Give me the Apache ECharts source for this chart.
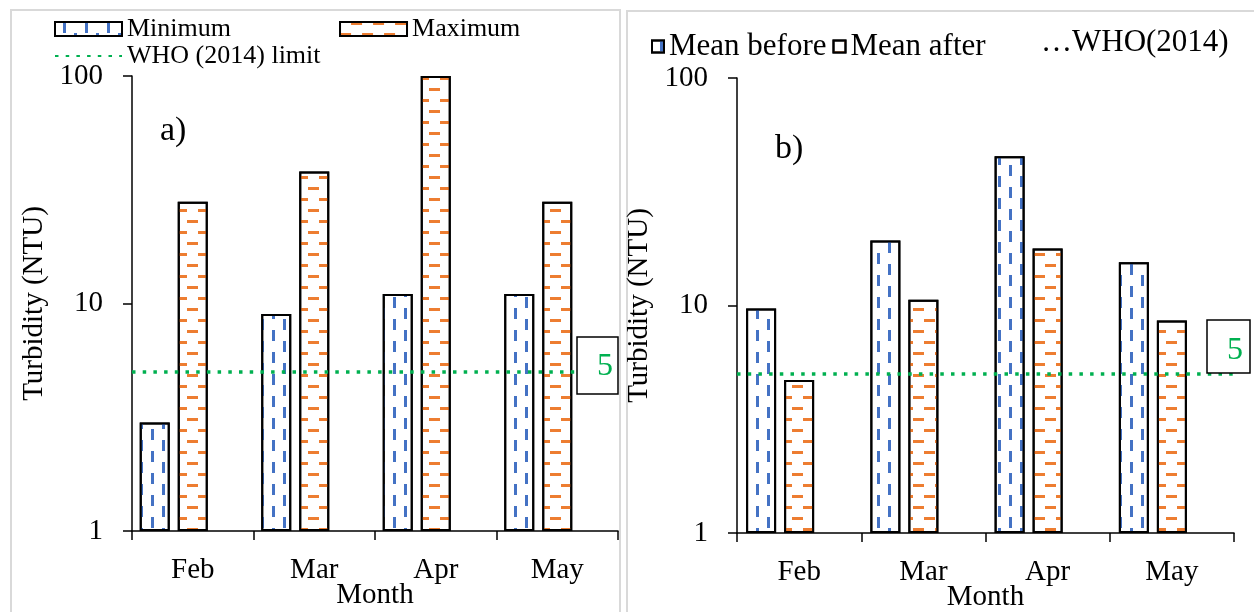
<!DOCTYPE html>
<html>
<head>
<meta charset="utf-8">
<script src="https://cdn.jsdelivr.net/npm/echarts@6/dist/echarts.min.js"></script>
<style>
html, body { margin: 0; padding: 0; background: #fff; }
#chart { width: 1254px; height: 612px; }
</style>
</head>
<body>
<div id="chart"></div>
<script>
// data
var months = ['Feb', 'Mar', 'Apr', 'May']
var minimum = [3, 9, 11, 11]
var maximum = [28, 38, 100, 28]
var meanBefore = [9.7, 19.3, 45.3, 15.5]
var meanAfter = [4.7, 10.6, 17.8, 8.6]
var whoLimit = 5
var yTicks = [1, 10, 100]

var font = 'Liberation Serif'
var blue = '#4472c4'
var orange = '#ed7d31'
var green = '#00b050'

// vertical blue dashes
var blueDecal = {
  symbol: 'rect',
  symbolSize: 1,
  symbolKeepAspect: false,
  color: blue,
  dashArrayX: [[11, 11], [0, 11, 11, 0]],
  dashArrayY: [3, 7.6],
  rotation: Math.PI / 2
}
// horizontal orange dashes
var orangeDecal = {
  symbol: 'rect',
  symbolSize: 1,
  symbolKeepAspect: false,
  color: orange,
  dashArrayX: [[11, 11], [0, 11, 11, 0]],
  dashArrayY: [3, 7.7]
}

function barStyle (decal) {
  return { color: '#fff', borderColor: '#000', borderWidth: 2, decal: decal }
}

var whoLine = { color: green, width: 3.5, type: [3.5, 7.2] }

function xAxisFor (grid) {
  return {
    type: 'category',
    gridIndex: grid,
    data: months,
    axisLine: { lineStyle: { color: '#000', width: 1.5 } },
    axisTick: { show: true, interval: 0, alignWithLabel: false, length: 9, lineStyle: { color: '#000', width: 1.5 } },
    axisLabel: { margin: 25, fontSize: 29, fontFamily: font, color: '#000' },
    name: 'Month',
    nameLocation: 'middle',
    nameGap: 50,
    nameMoveOverlap: false,
    nameTextStyle: { fontSize: 29, fontFamily: font, color: '#000' }
  }
}

function yAxisFor (grid) {
  return {
    type: 'log',
    logBase: 10,
    gridIndex: grid,
    min: yTicks[0],
    max: yTicks[yTicks.length - 1],
    axisLine: { show: true, lineStyle: { color: '#000', width: 1.5 } },
    axisTick: { show: true, length: 9, lineStyle: { color: '#000', width: 1.5 } },
    minorTick: { show: false },
    splitLine: { show: false },
    axisLabel: { margin: 29, fontSize: 29, fontFamily: font, color: '#000' },
    name: 'Turbidity (NTU)',
    nameLocation: 'middle',
    nameGap: 83,
    nameMoveOverlap: false,
    nameTextStyle: { fontSize: 29, fontFamily: font, color: '#000' }
  }
}

function barSeries (name, data, decal, grid) {
  return {
    name: name,
    type: 'bar',
    xAxisIndex: grid,
    yAxisIndex: grid,
    data: data,
    barWidth: 30,
    barGap: '26.7%',
    itemStyle: barStyle(decal)
  }
}

// empty third slot keeps the bars left of the month label, like the original
function spacer (grid) {
  return {
    name: 'spacer' + grid,
    type: 'bar',
    xAxisIndex: grid,
    yAxisIndex: grid,
    data: months.map(function () { return null }),
    barWidth: 30,
    barGap: '26.7%'
  }
}

function whoSeries (name, grid) {
  return {
    name: name,
    type: 'line',
    xAxisIndex: grid,
    yAxisIndex: grid,
    data: [],
    symbol: 'none',
    lineStyle: whoLine,
    itemStyle: { color: green },
    markLine: {
      silent: true,
      symbol: ['none', 'none'],
      label: { show: false },
      lineStyle: whoLine,
      data: [{ yAxis: whoLimit }]
    }
  }
}

var legendText = { fontSize: 26, fontFamily: font, color: '#000' }

var chart = echarts.init(document.getElementById('chart'))
chart.setOption({
  animation: false,
  grid: [
    { left: 132, right: 636, top: 76, bottom: 81, outerBoundsMode: 'none', containLabel: false },
    { left: 737, right: 20, top: 78, bottom: 79, outerBoundsMode: 'none', containLabel: false }
  ],
  xAxis: [xAxisFor(0), xAxisFor(1)],
  yAxis: [yAxisFor(0), yAxisFor(1)],
  legend: [
    { data: [{ name: 'Minimum', icon: 'rect' }, { name: 'Maximum', icon: 'rect' }], left: 49, top: 11, itemWidth: 67, itemHeight: 14, itemGap: 108, textStyle: legendText },
    { data: ['WHO (2014) limit'], left: 49, top: 38, itemWidth: 67, itemHeight: 14, itemStyle: { opacity: 0 }, textStyle: legendText },
    { data: [{ name: 'Mean before', icon: 'rect' }, { name: 'Mean after', icon: 'rect' }], left: 646, top: 26, itemWidth: 12, itemHeight: 12, itemGap: 6,
      textStyle: { fontSize: 31, fontFamily: font, color: '#000' } }
  ],
  graphic: [
    { type: 'rect', shape: { x: 11, y: 10, width: 609, height: 620 }, style: { fill: 'none', stroke: '#d9d9d9', lineWidth: 2 }, z: 0 },
    { type: 'rect', shape: { x: 627, y: 11, width: 640, height: 620 }, style: { fill: 'none', stroke: '#d9d9d9', lineWidth: 2 }, z: 0 },
    { type: 'text', left: 160, top: 114, style: { text: 'a)', font: '34px ' + font, fill: '#000' } },
    { type: 'text', left: 775, top: 132, style: { text: 'b)', font: '34px ' + font, fill: '#000' } },
    { type: 'text', left: 1041, top: 27, style: { text: '\u2026WHO(2014)', font: '31px ' + font, fill: '#000' } },
    { type: 'rect', shape: { x: 577, y: 337, width: 41, height: 57 }, style: { fill: '#fff', stroke: '#000', lineWidth: 1.5 }, z: 10 },
    { type: 'text', x: 605, y: 367, style: { text: '5', font: '32px ' + font, fill: green, align: 'center', verticalAlign: 'middle' }, z: 11 },
    { type: 'rect', shape: { x: 1207, y: 320, width: 43, height: 53 }, style: { fill: '#fff', stroke: '#000', lineWidth: 1.5 }, z: 10 },
    { type: 'text', x: 1235, y: 351, style: { text: '5', font: '32px ' + font, fill: green, align: 'center', verticalAlign: 'middle' }, z: 11 }
  ],
  series: [
    barSeries('Minimum', minimum, blueDecal, 0),
    barSeries('Maximum', maximum, orangeDecal, 0),
    spacer(0),
    whoSeries('WHO (2014) limit', 0),
    barSeries('Mean before', meanBefore, blueDecal, 1),
    barSeries('Mean after', meanAfter, orangeDecal, 1),
    spacer(1),
    whoSeries('WHO(2014)', 1)
  ]
})
</script>
</body>
</html>
